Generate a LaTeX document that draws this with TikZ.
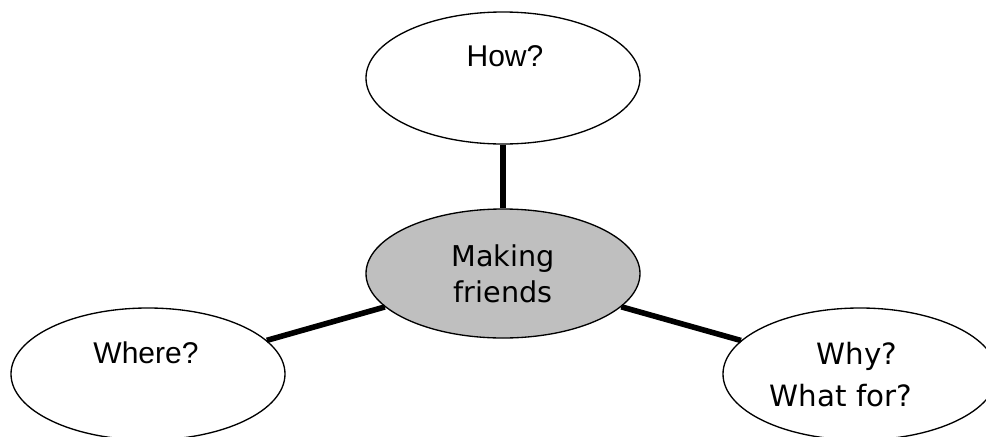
\documentclass[tikz,border=0pt]{standalone}
\usepackage{fontspec}
\setmainfont{Liberation Sans}
\newfontfamily\dejavu{DejaVu Sans}
\usetikzlibrary{shapes.geometric}

\begin{document}
\begin{tikzpicture}[x=0.75pt, y=-0.75pt,
    bubble/.style={ellipse, draw, line width=1pt, fill=white, inner sep=0pt, minimum width=205.5pt, minimum height=99pt},
    link/.style={line width=4.2pt},
    word/.style={inner sep=0pt, font=\fontsize{22.5}{26}\selectfont}
]
    \useasboundingbox (0,0) rectangle (986,436);
    \clip (0,0) rectangle (986,436);

    % Ellipses
    \node[bubble] (how) at (503,78) {};
    \node[bubble, fill=black!25, minimum height=96.75pt, align=center,
          font=\dejavu\fontsize{21.5}{27}\selectfont] (making) at (503,273.5) {Making\\friends};
    \node[bubble] (where) at (148,374) {};
    \node[bubble] (why) at (860,374) {};

    % Links
    \draw[link] (how) -- (making);
    \draw[link] (where) -- (making);
    \draw[link] (why) -- (making);

    % Labels
    \node[word, anchor=base] (howtxt) at (505,66) {How?};
    \node[word, anchor=base] (wheretxt) at (146,363) {Where?};
    \node[word, align=center, font=\dejavu\fontsize{22}{31.5}\selectfont] (whytxt) at (841,375) {\hspace*{24pt}Why?\\What for?};
\end{tikzpicture}
\end{document}
